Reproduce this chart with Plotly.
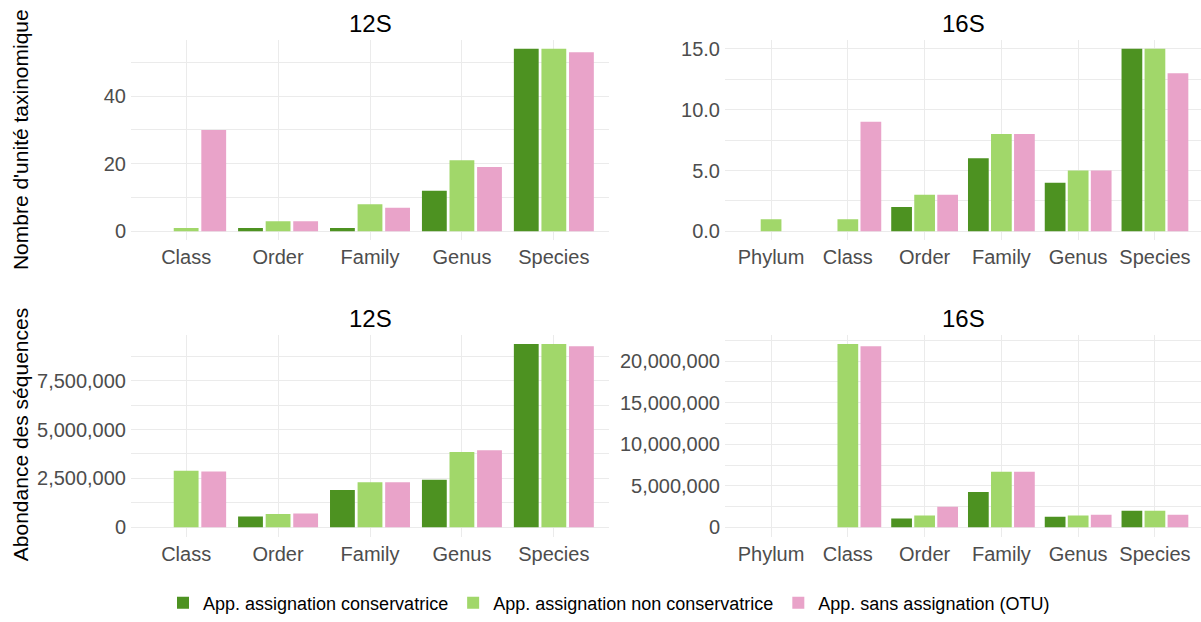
import plotly.graph_objects as go

# --- data -----------------------------------------------------------------
series_names = [
    "App. assignation conservatrice",
    "App. assignation non conservatrice",
    "App. sans assignation (OTU)",
]
series_colors = ["#4d9221", "#a1d76a", "#e9a3c9"]

ranks_12s = ["Class", "Order", "Family", "Genus", "Species"]
ranks_16s = ["Phylum", "Class", "Order", "Family", "Genus", "Species"]

# number of taxonomic units
taxa_12s_cons = [0, 1, 1, 12, 54]
taxa_12s_noncons = [1, 3, 8, 21, 54]
taxa_12s_otu = [30, 3, 7, 19, 53]

taxa_16s_cons = [0, 0, 2, 6, 4, 15]
taxa_16s_noncons = [1, 1, 3, 8, 5, 15]
taxa_16s_otu = [0, 9, 3, 8, 5, 13]

# sequence abundance
abund_12s_cons = [0, 560000, 1910000, 2430000, 9370000]
abund_12s_noncons = [2890000, 680000, 2310000, 3850000, 9370000]
abund_12s_otu = [2850000, 710000, 2310000, 3940000, 9260000]

abund_16s_cons = [0, 0, 1070000, 4250000, 1270000, 1990000]
abund_16s_noncons = [0, 22070000, 1430000, 6680000, 1430000, 1990000]
abund_16s_otu = [0, 21790000, 2470000, 6680000, 1510000, 1510000]

# --- figure ---------------------------------------------------------------
W, H = 1201, 622
FONT = "Liberation Sans, Arial, sans-serif"
GRID = "#ebebeb"
TICK_FONT = dict(size=20, color="#4d4d4d", family=FONT)


def px_x(v):
    return v / W


def px_y(v):
    return 1 - v / H


panels = [
    # axis suffix, categories, series, x domain (px), y domain (px), title, ticks, minor step, format
    ("", ranks_12s, [taxa_12s_cons, taxa_12s_noncons, taxa_12s_otu],
     (131, 609), (40, 242), "12S", [0, 20, 40], 10, ""),
    ("2", ranks_16s, [taxa_16s_cons, taxa_16s_noncons, taxa_16s_otu],
     (725, 1201), (40, 242), "16S", [0, 5, 10, 15], 2.5, ".1f"),
    ("3", ranks_12s, [abund_12s_cons, abund_12s_noncons, abund_12s_otu],
     (131, 609), (337, 540), "12S", [0, 2500000, 5000000, 7500000], 1250000, ","),
    ("4", ranks_16s, [abund_16s_cons, abund_16s_noncons, abund_16s_otu],
     (725, 1201), (337, 540), "16S", [0, 5000000, 10000000, 15000000, 20000000], 2500000, ","),
]

fig = go.Figure()
annotations = []
layout_axes = {}

for k, (suf, cats, vals, xd, yd, title, ticks, minor_step, fmt) in enumerate(panels):
    for name, color, v in zip(series_names, series_colors, vals):
        fig.add_trace(
            go.Bar(
                x=cats,
                y=v,
                name=name,
                marker_color=color,
                marker_line_width=0,
                xaxis="x" + suf,
                yaxis="y" + suf,
                legendgroup=name,
                showlegend=(k == 0),
            )
        )
    top = max(max(v) for v in vals)
    pad = top * 0.05
    n = len(cats)
    layout_axes["xaxis" + suf] = dict(
        domain=[px_x(xd[0]), px_x(xd[1])],
        anchor="y" + suf,
        type="category",
        range=[-0.6, n - 0.4],
        showgrid=True,
        gridcolor=GRID,
        gridwidth=1,
        zeroline=False,
        showline=False,
        ticks="",
        tickfont=TICK_FONT,
        ticklabelstandoff=3,
        automargin=False,
    )
    layout_axes["yaxis" + suf] = dict(
        domain=[px_y(yd[1]), px_y(yd[0])],
        anchor="x" + suf,
        range=[-pad, top + pad],
        tickvals=ticks,
        tickformat=fmt,
        showgrid=True,
        gridcolor=GRID,
        gridwidth=1,
        minor=dict(dtick=minor_step, tick0=0, showgrid=True, gridcolor=GRID, gridwidth=0.7),
        zeroline=False,
        showline=False,
        ticks="",
        tickfont=TICK_FONT,
        ticklabelstandoff=4,
        automargin=False,
    )
    annotations.append(
        dict(
            text=title,
            x=px_x((xd[0] + xd[1]) / 2),
            y=px_y(yd[0] - 16),
            xref="paper",
            yref="paper",
            xanchor="center",
            yanchor="middle",
            showarrow=False,
            font=dict(size=24, color="black", family=FONT),
        )
    )

for text, yc in [("Nombre d'unité taxinomique", 141), ("Abondance des séquences", 438)]:
    annotations.append(
        dict(text=text, x=px_x(20), y=px_y(yc),
             xref="paper", yref="paper", xanchor="center", yanchor="middle",
             showarrow=False, textangle=-90,
             font=dict(size=21, color="black", family=FONT))
    )

fig.update_layout(
    width=W,
    height=H,
    margin=dict(l=0, r=0, t=0, b=0),
    paper_bgcolor="white",
    plot_bgcolor="white",
    barmode="group",
    bargap=0.1,
    bargroupgap=0.1,
    font=dict(family=FONT),
    showlegend=True,
    legend=dict(
        orientation="h",
        x=px_x(609),
        xanchor="center",
        y=px_y(607),
        yanchor="middle",
        font=dict(size=18, color="black", family=FONT),
        itemwidth=30,
        traceorder="normal",
    ),
    annotations=annotations,
    **layout_axes,
)

fig.write_html(
    "out.html",
    config={"displayModeBar": False},
    post_script="document.body.style.margin = '0';",
)
